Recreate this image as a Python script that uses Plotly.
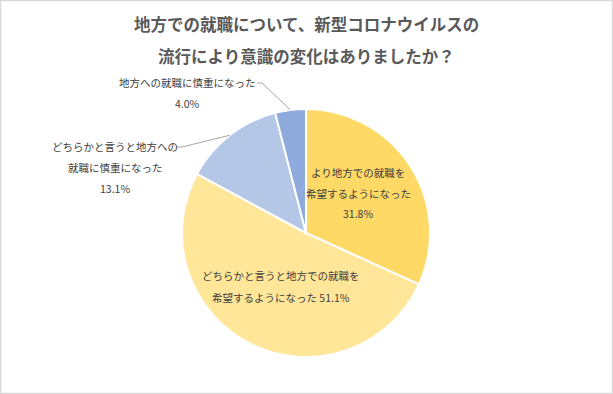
import math
import plotly.graph_objects as go

categories = ["より地方での就職を希望するようになった",
              "どちらかと言うと地方での就職を希望するようになった",
              "どちらかと言うと地方への就職に慎重になった",
              "地方への就職に慎重になった"]
values = [31.8, 51.1, 13.1, 4.0]
colors = ["#FFD966", "#FFE699", "#B4C7E7", "#8FAADC"]
label_lines = [["より地方での就職を", "希望するようになった"],
               ["どちらかと言うと地方での就職を", "希望するようになった"],
               ["どちらかと言うと地方への", "就職に慎重になった"],
               ["地方への就職に慎重になった"]]
title_lines = ["地方での就職について、新型コロナウイルスの",
               "流行により意識の変化はありましたか？"]

W, H = 613, 394
CX, CY, R = 306, 233, 124  # pie center / radius in px (from top-left)
FONT = "Noto Sans CJK JP, Noto Sans, sans-serif"
TXT = "#404040"

fig = go.Figure(go.Pie(
    labels=categories, values=values, sort=False, direction="clockwise",
    rotation=0, marker=dict(colors=colors, line=dict(color="white", width=2)),
    textinfo="none", hoverinfo="label+percent", showlegend=False,
    domain=dict(x=[(CX - R) / W, (CX + R) / W],
                y=[(H - CY - R) / H, (H - CY + R) / H]),
))

def px(x, y):
    return x / W, 1 - y / H

anns = []
def add_text(x, y, s, size=10.5, color=TXT, bold=False, xanchor="center"):
    xx, yy = px(x, y)
    anns.append(dict(x=xx, y=yy, xref="paper", yref="paper", text=("<b>%s</b>" % s) if bold else s,
                     showarrow=False, xanchor=xanchor, yanchor="middle",
                     font=dict(family=FONT, size=size, color=color)))

# title
add_text(306, 24, title_lines[0], size=16.5, color="#595959", bold=True)
add_text(306, 56, title_lines[1], size=16.5, color="#595959", bold=True)

pct = ["%.1f%%" % v for v in values]
# inside labels
add_text(358, 172, label_lines[0][0])
add_text(358, 193, label_lines[0][1])
add_text(358, 214, pct[0])
add_text(281, 275, label_lines[1][0])
add_text(281, 297, label_lines[1][1] + " " + pct[1])
# outside labels
add_text(115, 147, label_lines[2][0])
add_text(115, 168, label_lines[2][1])
add_text(115, 188, pct[2])
add_text(187, 82, label_lines[3][0])
add_text(187, 103, pct[3])

# leader lines to slice edge midpoints
total = sum(values)
shapes = []
def mid_edge(i):
    start = sum(values[:i]) / total
    frac = start + values[i] / total / 2
    ang = 2 * math.pi * frac
    return CX + R * math.sin(ang), CY - R * math.cos(ang)

for i, (lx, ly) in [(2, (177, 147)), (3, (257, 83))]:
    ex, ey = mid_edge(i)
    pts = [(lx, ly), (lx + 5, ly), (ex, ey)]
    path = "M " + " L ".join("%f,%f" % px(a, b) for a, b in pts)
    shapes.append(dict(type="path", xref="paper", yref="paper", path=path,
                       line=dict(color="#A6A6A6", width=1)))

# chart border
shapes.append(dict(type="rect", xref="paper", yref="paper", x0=0.5 / W, y0=0.5 / H,
                   x1=1 - 0.5 / W, y1=1 - 0.5 / H, line=dict(color="#D9D9D9", width=1.5)))

fig.update_layout(width=W, height=H, margin=dict(l=0, r=0, t=0, b=0),
                  paper_bgcolor="white", plot_bgcolor="white",
                  annotations=anns, shapes=shapes)
fig.write_html("out.html", config={"displayModeBar": False},
               post_script="document.body.style.margin='0';document.body.style.overflow='hidden';")
